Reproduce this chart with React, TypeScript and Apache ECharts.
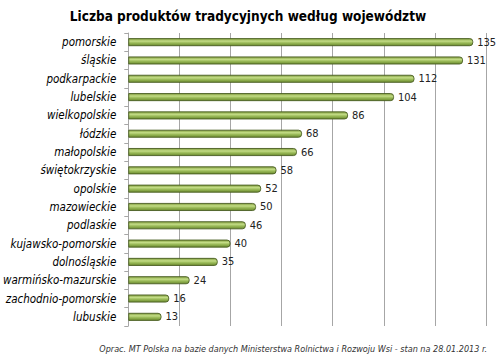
import React, { useEffect, useRef } from "react";
import * as echarts from "echarts";

const title = "Liczba produktów tradycyjnych według województw";
const footnote = "Oprac. MT Polska na bazie danych Ministerstwa Rolnictwa i Rozwoju Wsi - stan na 28.01.2013 r.";
const categories = [
  "pomorskie", "śląskie", "podkarpackie", "lubelskie", "wielkopolskie", "łódzkie",
  "małopolskie", "świętokrzyskie", "opolskie", "mazowieckie", "podlaskie",
  "kujawsko-pomorskie", "dolnośląskie", "warmińsko-mazurskie", "zachodnio-pomorskie", "lubuskie",
];
const values = [135, 131, 112, 104, 86, 68, 66, 58, 52, 50, 46, 40, 35, 24, 16, 13];
const axisMin = 0;
const axisMax = 140;
const axisStep = 20;

export default function App() {
  const ref = useRef<HTMLDivElement>(null);
  useEffect(() => {
    const chart = echarts.init(ref.current!, null, { renderer: "svg" });
    chart.setOption({
      animation: false,
      backgroundColor: "#ffffff",
      title: {
        text: title,
        left: "center",
        top: 4,
        textStyle: { fontFamily: "DejaVu Sans Condensed", fontSize: 13.5, fontWeight: "bold", color: "#000" },
      },
      graphic: [
        {
          type: "text",
          right: 9,
          bottom: 6,
          style: {
            text: footnote,
            font: "italic 9px 'DejaVu Sans Condensed', 'DejaVu Sans'",
            fill: "#333",
          },
        },
      ],
      grid: { left: 128, right: 10, top: 33, bottom: 33, containLabel: false },
      xAxis: {
        type: "value",
        min: axisMin,
        max: axisMax,
        interval: axisStep,
        axisLabel: { show: false },
        axisLine: { show: false },
        axisTick: { show: false },
        splitLine: { show: true, lineStyle: { color: "#a6a6a6", width: 1 } },
      },
      yAxis: {
        type: "category",
        data: categories,
        inverse: true,
        axisLine: { show: true, lineStyle: { color: "#a6a6a6" } },
        axisTick: { show: true, length: 4, lineStyle: { color: "#a6a6a6" } },
        axisLabel: {
          fontFamily: "DejaVu Sans Condensed",
          fontStyle: "italic",
          fontSize: 11.5,
          color: "#000",
          margin: 12,
        },
      },
      series: [
        {
          type: "bar",
          data: values,
          barWidth: 8,
          itemStyle: {
            color: new echarts.graphic.LinearGradient(0, 0, 0, 1, [
              { offset: 0, color: "#7f9c3b" },
              { offset: 0.35, color: "#c3dc86" },
              { offset: 0.6, color: "#9bbb59" },
              { offset: 1, color: "#6a8a2e" },
            ]),
            borderColor: "#4a5e22",
            borderWidth: 0.9,
            borderRadius: [0, 3, 3, 0],
          },
          label: {
            show: true,
            position: "right",
            distance: 4,
            fontFamily: "DejaVu Sans Condensed",
            fontSize: 11,
            color: "#222",
          },
        },
      ],
    });
    return () => chart.dispose();
  }, []);
  return <div ref={ref} style={{ width: 496, height: 359, position: "absolute", left: 0, top: 0 }} />;
}
